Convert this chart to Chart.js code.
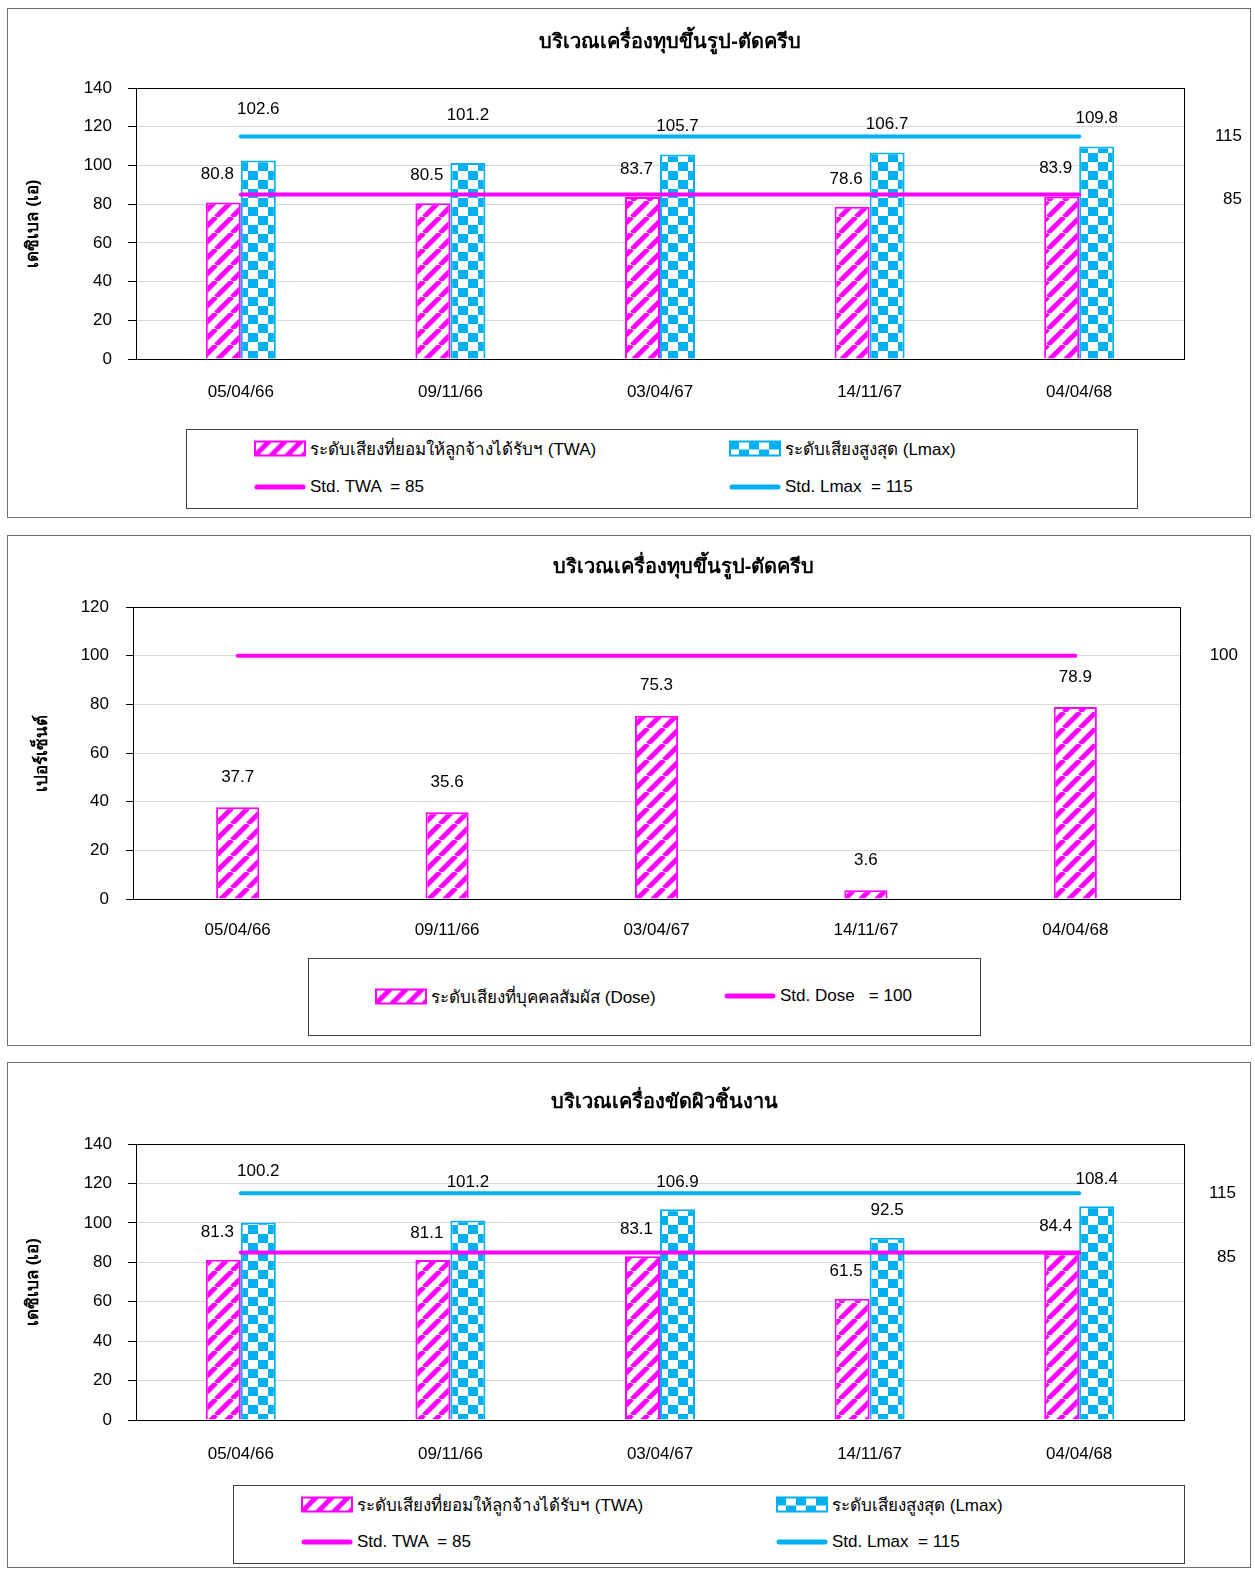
<!DOCTYPE html>
<html>
<head>
<meta charset="utf-8">
<script src="https://cdn.jsdelivr.net/npm/chart.js@4"></script>
<style>
body { margin: 0; background: #fff; width: 1255px; height: 1570px; position: relative; font-family: "Liberation Sans", "Noto Sans", sans-serif; }
.panel { position: absolute; left: 7px; width: 1242px; border: 1px solid #6f6f6f; background: #fff; }
.panel canvas { position: absolute; left: 0; top: 0; }
.legend { position: absolute; border: 1px solid #404040; background: #fff; font-size: 17px; color: #000; }
.item { position: absolute; display: flex; align-items: center; white-space: pre; transform: translateY(-50%); }
.item canvas { margin-right: 4px; }
</style>
</head>
<body>

<div class="panel" id="p1" style="top:8px;height:508px"><canvas id="chart1" width="1242" height="508"></canvas></div>
<div class="legend" id="lg1" style="left:186px;top:429px;width:950px;height:78px"></div>

<div class="panel" id="p2" style="top:535px;height:509px"><canvas id="chart2" width="1242" height="509"></canvas></div>
<div class="legend" id="lg2" style="left:308px;top:958px;width:671px;height:76px"></div>

<div class="panel" id="p3" style="top:1062px;height:504px"><canvas id="chart3" width="1242" height="504"></canvas></div>
<div class="legend" id="lg3" style="left:233px;top:1485px;width:950px;height:77px"></div>

<script>
var dates = ['05/04/66', '09/11/66', '03/04/67', '14/11/67', '04/04/68']

// บริเวณเครื่องทุบขึ้นรูป-ตัดครีบ
var twaForge = [80.8, 80.5, 83.7, 78.6, 83.9]
var lmaxForge = [102.6, 101.2, 105.7, 106.7, 109.8]
var doseForge = [37.7, 35.6, 75.3, 3.6, 78.9]

// บริเวณเครื่องขัดผิวชิ้นงาน
var twaPolish = [81.3, 81.1, 83.1, 61.5, 84.4]
var lmaxPolish = [100.2, 101.2, 106.9, 92.5, 108.4]

// standard lines
var stdTwa = [85, 85, 85, 85, 85]
var stdLmax = [115, 115, 115, 115, 115]
var stdDose = [100, 100, 100, 100, 100]

var dbTicks = [0, 20, 40, 60, 80, 100, 120, 140]
var pctTicks = [0, 20, 40, 60, 80, 100, 120]

var MAGENTA = '#ff00ff', CYAN = '#00b0f0'
var FONT = '"Liberation Sans", "Noto Sans", sans-serif'

function stripePattern(ctx) {
  var c = document.createElement('canvas')
  c.width = 16; c.height = 16
  var g = c.getContext('2d')
  g.fillStyle = '#fff'; g.fillRect(0, 0, 16, 16)
  g.strokeStyle = MAGENTA; g.lineWidth = 5
  g.beginPath()
  for (var k = -16; k <= 32; k += 16) { g.moveTo(k, 16); g.lineTo(k + 16, 0) }
  g.stroke()
  return ctx.createPattern(c, 'repeat')
}

function checkerPattern(ctx) {
  var c = document.createElement('canvas')
  c.width = 20; c.height = 18
  var g = c.getContext('2d')
  g.fillStyle = '#fff'; g.fillRect(0, 0, 20, 18)
  g.fillStyle = CYAN
  g.fillRect(0, 0, 10, 9); g.fillRect(10, 9, 10, 9)
  return ctx.createPattern(c, 'repeat')
}

// title, frame of plot area, value labels above bars, std value at right margin
var extras = {
  id: 'extras',
  afterDatasetsDraw: function (chart, args, opts) {
    var ctx = chart.ctx, area = chart.chartArea
    ctx.save()
    ctx.strokeStyle = '#000'; ctx.lineWidth = 1
    ctx.strokeRect(Math.round(area.left) + 0.5, Math.round(area.top) + 0.5, Math.round(area.right - area.left), Math.round(area.bottom - area.top))

    ctx.fillStyle = '#000'
    ctx.textBaseline = 'middle'
    ctx.textAlign = 'center'
    ctx.font = 'bold 20px ' + FONT
    ctx.fillText(opts.title, (area.left + area.right) / 2 + opts.titleDx, opts.titleY)

    ctx.font = '17px ' + FONT
    chart.data.datasets.forEach(function (ds, i) {
      var meta = chart.getDatasetMeta(i)
      if (ds.type === 'line') {
        var y = chart.scales.y.getPixelForValue(ds.data[ds.data.length - 1])
        ctx.textAlign = 'right'
        ctx.fillText(String(ds.data[0]), area.right + opts.stdX, y + (ds.stdDy || 0))
        return
      }
      ctx.textAlign = 'center'
      meta.data.forEach(function (bar, j) {
        var lift = ds.lift ? ds.lift[j] : 0
        ctx.fillText(ds.data[j].toFixed(1), bar.x + (ds.labelDx || 0), bar.y - opts.gap - lift)
      })
    })
    ctx.restore()
  }
}

function makeChart(id, cfg) {
  var ctx = document.getElementById(id).getContext('2d')
  var ticks = cfg.ticks
  return new Chart(ctx, {
    type: 'bar',
    data: { labels: dates, datasets: cfg.datasets },
    plugins: [extras],
    options: {
      responsive: false,
      animation: false,
      layout: { padding: { top: cfg.padTop, right: cfg.padRight, bottom: 0, left: 0 } },
      plugins: {
        legend: { display: false },
        tooltip: { enabled: false },
        title: { display: false },
        extras: { stdX: cfg.stdX, gap: cfg.gap, title: cfg.title, titleY: cfg.titleY, titleDx: cfg.titleDx }
      },
      datasets: { bar: { categoryPercentage: cfg.catPct, barPercentage: 1 } },
      scales: {
        x: {
          afterFit: function (s) { s.height = cfg.xHeight },
          grid: { display: false, drawTicks: false },
          border: { color: '#000' },
          ticks: { color: '#000', padding: cfg.xPad, font: { family: FONT, size: 17 } }
        },
        y: {
          min: ticks[0],
          max: ticks[ticks.length - 1],
          afterFit: function (s) { s.width = cfg.yWidth },
          grid: { color: '#d9d9d9', tickColor: '#000', tickLength: cfg.tickLen },
          border: { color: '#000' },
          ticks: { stepSize: ticks[1] - ticks[0], color: '#000', padding: cfg.yPad, font: { family: FONT, size: 17 } },
          title: {
            display: true,
            text: cfg.yTitle,
            color: '#000',
            font: { family: FONT, size: 17, weight: 'bold' },
            padding: { top: cfg.yTitleX, bottom: 0 }
          }
        }
      }
    }
  })
}

function legendSwatch(ds) {
  var c = document.createElement('canvas')
  c.width = 52; c.height = 16
  var g = c.getContext('2d')
  if (ds.type === 'line') {
    g.strokeStyle = ds.borderColor; g.lineWidth = 5; g.lineCap = 'round'
    g.beginPath(); g.moveTo(3, 8); g.lineTo(49, 8); g.stroke()
  } else {
    g.fillStyle = ds.swatch(g)
    g.fillRect(0, 0, 52, 16)
    g.strokeStyle = ds.borderColor; g.lineWidth = 2
    g.strokeRect(1, 1, 50, 14)
  }
  return c
}

// legend built from dataset labels, slots are [left, centerY] inside the box
function buildLegend(chart, boxId, order, slots) {
  var box = document.getElementById(boxId)
  order.forEach(function (idx, k) {
    var ds = chart.data.datasets[idx]
    var it = document.createElement('div')
    it.className = 'item'
    it.style.left = slots[k][0] + 'px'
    it.style.top = slots[k][1] + 'px'
    it.appendChild(legendSwatch(ds))
    var t = document.createElement('span')
    t.textContent = ds.label
    it.appendChild(t)
    box.appendChild(it)
  })
}

function twaBars(ctx, data, lift) {
  return { label: 'ระดับเสียงที่ยอมให้ลูกจ้างได้รับฯ (TWA)', data: data, backgroundColor: stripePattern(ctx), borderColor: MAGENTA, borderWidth: 2, order: 2, labelDx: -6, lift: lift, swatch: stripePattern }
}
function lmaxBars(ctx, data, lift) {
  return { label: 'ระดับเสียงสูงสุด (Lmax)', data: data, backgroundColor: checkerPattern(ctx), borderColor: CYAN, borderWidth: 2, order: 2, lift: lift, swatch: checkerPattern }
}
function stdLine(label, data, color, dy) {
  return { type: 'line', label: label, data: data, borderColor: color, borderWidth: 4, borderCapStyle: 'round', pointRadius: 0, fill: false, order: 1, stdDy: dy }
}

var c1 = document.getElementById('chart1').getContext('2d')
var chart1 = makeChart('chart1', {
  title: 'บริเวณเครื่องทุบขึ้นรูป-ตัดครีบ', titleY: 33, titleDx: 10,
  yTitle: 'เดซิเบล (เอ)',
  ticks: dbTicks,
  padTop: 79, padRight: 66,
  xHeight: 158, xPad: 23, yWidth: 128, yPad: 16, tickLen: 8, yTitleX: 15,
  catPct: 0.334, stdX: 58, gap: 28,
  datasets: [
    twaBars(c1, twaForge, [0, 0, 0, 0, 0]),
    lmaxBars(c1, lmaxForge, [23, 20, 0, 0, 0]),
    stdLine('Std. TWA  = 85', stdTwa, MAGENTA, 5),
    stdLine('Std. Lmax  = 115', stdLmax, CYAN, 0)
  ]
})
buildLegend(chart1, 'lg1', [0, 1, 2, 3], [[67, 18], [542, 18], [67, 57], [542, 57]])

var c2 = document.getElementById('chart2').getContext('2d')
var doseSet = { label: 'ระดับเสียงที่บุคคลสัมผัส (Dose)', data: doseForge, backgroundColor: stripePattern(c2), borderColor: MAGENTA, borderWidth: 2, order: 2, swatch: stripePattern }
var chart2 = makeChart('chart2', {
  title: 'บริเวณเครื่องทุบขึ้นรูป-ตัดครีบ', titleY: 31, titleDx: 27,
  yTitle: 'เปอร์เซ็นต์',
  ticks: pctTicks,
  padTop: 71, padRight: 70,
  xHeight: 146, xPad: 21, yWidth: 125, yPad: 17, tickLen: 7, yTitleX: 24,
  catPct: 0.206, stdX: 58, gap: 30,
  datasets: [doseSet, stdLine('Std. Dose   = 100', stdDose, MAGENTA, 0)]
})
buildLegend(chart2, 'lg2', [0, 1], [[66, 37], [415, 37]])

var c3 = document.getElementById('chart3').getContext('2d')
var chart3 = makeChart('chart3', {
  title: 'บริเวณเครื่องขัดผิวชิ้นงาน', titleY: 39, titleDx: 4,
  yTitle: 'เดซิเบล (เอ)',
  ticks: dbTicks,
  padTop: 81, padRight: 66,
  xHeight: 147, xPad: 24, yWidth: 128, yPad: 16, tickLen: 8, yTitleX: 15,
  catPct: 0.334, stdX: 52, gap: 27,
  datasets: [
    twaBars(c3, twaPolish, [0, 0, 0, 0, 0]),
    lmaxBars(c3, lmaxPolish, [24, 11, 0, 0, 0]),
    stdLine('Std. TWA  = 85', stdTwa, MAGENTA, 5),
    stdLine('Std. Lmax  = 115', stdLmax, CYAN, 0)
  ]
})
buildLegend(chart3, 'lg3', [0, 1, 2, 3], [[67, 18], [542, 18], [67, 56], [542, 56]])
</script>
</body>
</html>
